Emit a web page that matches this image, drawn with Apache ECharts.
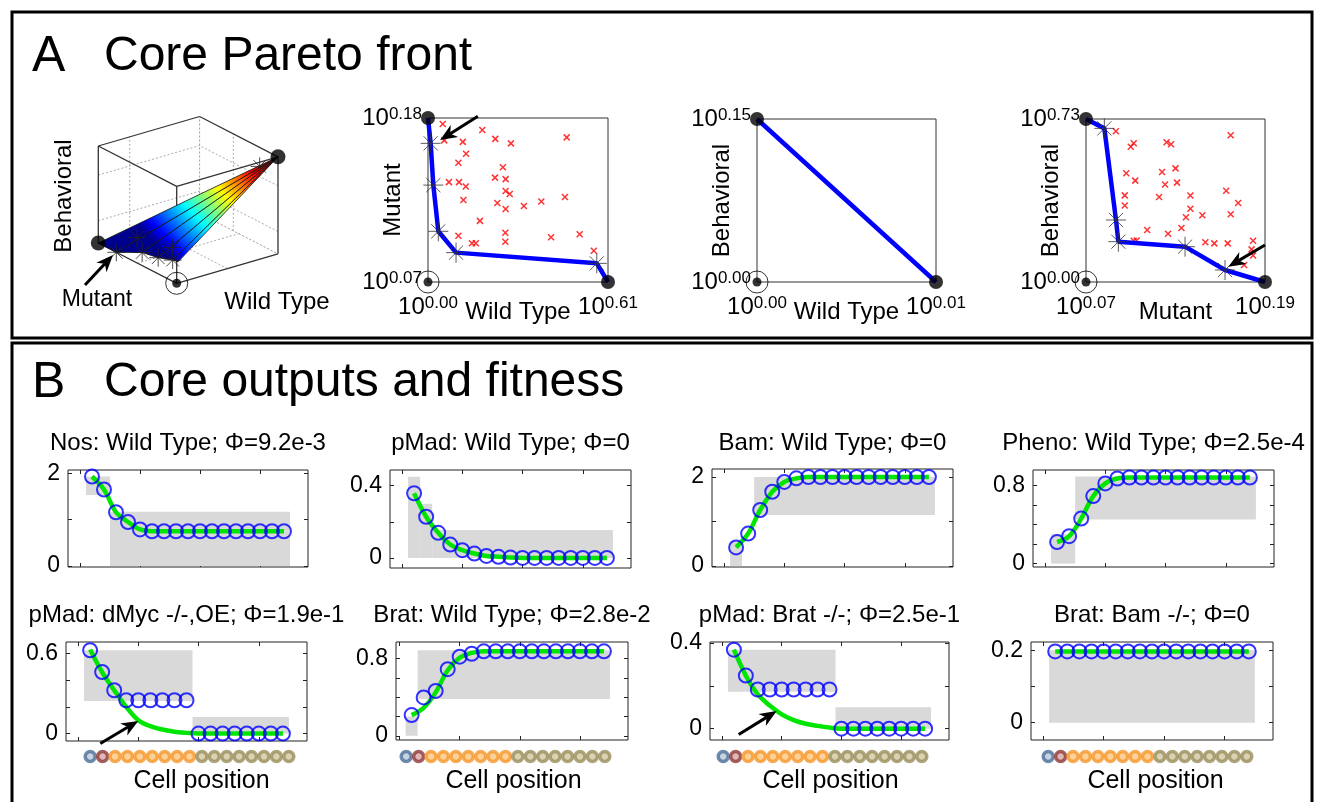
<!DOCTYPE html>
<html><head><meta charset="utf-8">
<script src="https://cdn.jsdelivr.net/npm/echarts@6/dist/echarts.min.js"></script>
<style>html,body{margin:0;padding:0;background:#fff}#c{width:1318px;height:802px}</style>
</head><body><div id="c"></div>
<script>
// ======================= DATA =======================
const cells = [1,2,3,4,5,6,7,8,9,10,11,12,13,14,15,16,17];
const cellKinds = [0,1,2,2,2,2,2,2,2,3,3,3,3,3,3,3,3];
const xTickVals = [0,5,10,15];

// ---- Panel A: 3D core Pareto front, normalised [Wild Type, Mutant, Behavioral]
const front3dApex = [1,0,1];
const front3dBase = [[0,1,0],[0,0.77,0],[0.1,0.57,0.05],[0.15,0.43,0.04],[0.2,0.31,0.05],[0.24,0.29,0.03]];
const front3dStars = [[0,0.77,0],[0.05,0.57,0.22],[0.1,0.57,0.05],[0.15,0.43,0.04],[0.2,0.31,0.05],[0.2,0.31,0.18],[0.85,0.04,0.93]];
const front3dDots = [[0,1,0],[1,0,1]];
const front3dOrigin = [[0,0,0]];
const cubeCorners = [[0,0,0],[1,0,0],[0,1,0],[1,1,0],[0,0,1],[1,0,1],[0,1,1],[1,1,1]];
const cubeSolidEdges = [[4,5],[5,7],[7,6],[6,4],[0,4],[2,6],[1,5],[0,2],[0,1]];
const cubeHiddenEdges = [[3,7],[3,2],[3,1]];
const cubeGridLines = [[[0,1,0.23],[1,1,0.23]],[[0,1,0.7],[1,1,0.7]],[[1,0,0.23],[1,1,0.23]],[[1,0,0.7],[1,1,0.7]],
  [[0.31,1,0],[0.31,1,1]],[[1,0.57,0],[1,0.57,1]],[[0.5,0,0],[0.5,1,0]],[[0,0.5,0],[1,0.5,0]]];
const arrow3d = [[45,15,73,45]];

// ---- Panel A: Mutant vs Wild Type (exponents of 10)
const wmRangeWT = [0, 0.61];
const wmRangeMut = [0.07, 0.18];
const wmFrontWT  = [0, 0.009, 0.018, 0.035, 0.095, 0.572, 0.61];
const wmFrontMut = [0.18, 0.163, 0.135, 0.104, 0.0897, 0.0825, 0.07];
const wmCloudWT  = [0.050,0.055,0.118,0.184,0.228,0.281,0.470,0.129,0.103,0.254,0.071,0.105,0.128,0.227,0.263,0.120,0.263,0.277,0.235,0.263,0.325,0.384,0.464,0.176,0.103,0.262,0.417,0.514,0.149,0.162,0.262,0.562];
const wmCloudMut = [0.176,0.165,0.164,0.172,0.166,0.163,0.167,0.156,0.150,0.147,0.137,0.137,0.134,0.140,0.139,0.125,0.131,0.129,0.123,0.119,0.121,0.124,0.127,0.111,0.101,0.103,0.100,0.102,0.096,0.096,0.097,0.091];
const wmArrow = [[0.169,0.1812,0.041,0.1652]];

// ---- Panel A: Behavioral vs Wild Type
const bwRangeWT = [0, 0.01];
const bwRangeBeh = [0, 0.15];
const bwFrontWT = [0, 0.01];
const bwFrontBeh = [0.15, 0];

// ---- Panel A: Behavioral vs Mutant
const bmRangeMut = [0.07, 0.19];
const bmRangeBeh = [0, 0.73];
const bmFrontMut = [0.07, 0.0823, 0.0901, 0.0917, 0.1364, 0.1632, 0.19];
const bmFrontBeh = [0.73, 0.688, 0.2776, 0.1806, 0.1582, 0.0537, 0];
const bmCloudMut = [0.090,0.102,0.100,0.124,0.127,0.167,0.097,0.121,0.130,0.103,0.123,0.131,0.096,0.096,0.119,0.140,0.164,0.172,0.140,0.137,0.148,0.167,0.134,0.125,0.111,0.102,0.104,0.150,0.156,0.165,0.182,0.181,0.182,0.176];
const bmCloudBeh = [0.675,0.621,0.606,0.626,0.617,0.657,0.487,0.493,0.509,0.454,0.437,0.445,0.388,0.343,0.381,0.387,0.409,0.354,0.328,0.290,0.299,0.303,0.242,0.216,0.233,0.185,0.186,0.178,0.173,0.173,0.185,0.146,0.119,0.076];
const bmArrow = [[0.19,0.1657,0.1654,0.0685]];

// ---- Panel B: core outputs (circles = output, green = fitted curve, bands = target ranges [x0,x1,y0,y1])
const nosWT   = [1.93,1.65,1.16,0.95,0.79,0.75,0.75,0.75,0.75,0.75,0.75,0.75,0.75,0.75,0.75,0.75,0.75];
const nosWTBands = [[0.5,2.5,1.53,1.93],[2.5,17.5,0,1.17]];
const pmadWT  = [0.358,0.228,0.139,0.074,0.043,0.024,0.011,0.006,0.002,0,0,0,0,0,0,0,0];
const pmadWTBands = [[0.5,1.5,0,0.45],[1.5,2.5,0,0.30],[2.5,17.5,0,0.154]];
const bamWT   = [0.42,0.73,1.26,1.67,1.89,1.97,2,2,2,2,2,2,2,2,2,2,2];
const bamWTBands = [[0.5,1.5,0,0.55],[2.5,17.5,1.15,2.0]];
const phenoWT = [0.22,0.28,0.46,0.69,0.82,0.87,0.88,0.88,0.88,0.88,0.88,0.88,0.88,0.88,0.88,0.88,0.88];
const phenoWTBands = [[0.5,2.5,0,0.3],[2.5,17.5,0.45,0.89]];
const pmadMyc = [0.625,0.462,0.325,0.25,0.25,0.25,0.25,0.25,0.25,0,0,0,0,0,0,0,0];
const pmadMycFit = [0.63,0.46,0.325,0.2,0.1,0.055,0.03,0.013,0.005,0,0,0,0,0,0,0,0];
const pmadMycBands = [[0.5,9.5,0.245,0.625],[9.5,17.5,0,0.125]];
const pmadMycArrow = [[1.85,-0.075,5.0,0.095]];
const bratWT  = [0.214,0.397,0.465,0.69,0.82,0.85,0.875,0.875,0.875,0.875,0.875,0.875,0.875,0.875,0.875,0.875,0.875];
const bratWTFit = [0.214,0.29,0.45,0.68,0.81,0.86,0.875,0.875,0.875,0.875,0.875,0.875,0.875,0.875,0.875,0.875,0.875];
const bratWTBands = [[0.5,1.5,0,0.2],[1.5,17.5,0.38,0.886]];
const pmadBrat = [0.369,0.248,0.183,0.183,0.183,0.183,0.183,0.183,0.183,0,0,0,0,0,0,0,0];
const pmadBratFit = [0.369,0.248,0.16,0.108,0.067,0.04,0.023,0.013,0.005,0,0,0,0,0,0,0,0];
const pmadBratBands = [[0.5,9.5,0.172,0.369],[9.5,17.5,0,0.1]];
const pmadBratArrow = [[1.4,-0.027,4.58,0.082]];
const bratBam = [0.197,0.197,0.197,0.197,0.197,0.197,0.197,0.197,0.197,0.197,0.197,0.197,0.197,0.197,0.197,0.197,0.197];
const bratBamBands = [[0.5,17.5,0,0.2]];

// ======================= STYLE / LAYOUT =======================
const F = "'Liberation Sans', Arial, Helvetica, sans-serif";
const kindStyle = [
  {fill:'#b9c8da', stroke:'#4b6f98'},
  {fill:'#d8a4a4', stroke:'#8e3a3a'},
  {fill:'#fcc780', stroke:'#f6972c'},
  {fill:'#cfc7a0', stroke:'#9a8e5c'}
];
const view = {ox:136.7, oy:16.7, wx:101.3, wy:29.5, mx:-78.4, my:40.3, bz:97};
function proj(p){ return [view.ox + view.wx*p[0] + view.mx*p[1], view.oy + view.wy*p[0] + view.my*p[1] + view.bz*p[2]]; }
const jet = [{offset:0,color:'#00008f'},{offset:0.08,color:'#0000ff'},{offset:0.32,color:'#00ffff'},{offset:0.56,color:'#ffff00'},{offset:0.8,color:'#ff0000'},{offset:1,color:'#800000'}];
const starPath = 'path://M5,0L5,10M0,5L10,5M1.46,1.46L8.54,8.54M1.46,8.54L8.54,1.46';
const xPath = 'path://M0,0L10,10M0,10L10,0';

const grids=[], xAxes=[], yAxes=[], series=[], graphics=[];
const zip = (a,b) => a.map((v,i)=>[v,b[i]]);
const noLine = {show:false, onZero:false};

function powLabel(v){ return '{b|10}{s|' + v.toFixed(2) + '}'; }
const powRich = {
  b:{fontSize:24, fontFamily:F, color:'#000', verticalAlign:'bottom', lineHeight:24},
  s:{fontSize:17, fontFamily:F, color:'#000', verticalAlign:'top', lineHeight:17, padding:[0,0,11,0]}
};
// arrow drawn through the axis scales (tail -> head)
function arrowSeries(xi, yi, arr){
  return {type:'custom', xAxisIndex:xi, yAxisIndex:yi, silent:true, clip:false, z:8, data:arr,
    renderItem:(params, api)=>{
      const a = api.coord([api.value(0), api.value(1)]);
      const b = api.coord([api.value(2), api.value(3)]);
      const dx = b[0]-a[0], dy = b[1]-a[1], len = Math.hypot(dx,dy) || 1;
      const ux = dx/len, uy = dy/len, nx = -uy, ny = ux;
      const L = 17, W = 7, N = 12;
      const back = [b[0]-ux*L, b[1]-uy*L];
      const notch = [b[0]-ux*N, b[1]-uy*N];
      return {type:'group', children:[
        {type:'line', shape:{x1:a[0],y1:a[1],x2:notch[0],y2:notch[1]}, style:{stroke:'#000', lineWidth:3}},
        {type:'polygon', shape:{points:[b,[back[0]+nx*W, back[1]+ny*W], notch, [back[0]-nx*W, back[1]-ny*W]]}, style:{fill:'#000'}}
      ]};
    }};
}

// ---------- 3D panel ----------
grids.push({left:40, top:100, width:260, height:200, outerBoundsMode:'none'});
xAxes.push({gridIndex:0, type:'value', min:0, max:260, show:false, axisLine:noLine});
yAxes.push({gridIndex:0, type:'value', min:0, max:200, show:false, axisLine:noLine});
function segSeries(segs, style, z){
  return {type:'custom', xAxisIndex:0, yAxisIndex:0, silent:true, z:z, clip:false,
    data: segs.map((s,i)=>[i]),
    renderItem:(params, api)=>{
      const s = segs[api.value(0)];
      const a = api.coord(proj(s[0])), b = api.coord(proj(s[1]));
      return {type:'line', shape:{x1:a[0],y1:a[1],x2:b[0],y2:b[1]}, style:Object.assign({fill:null}, style)};
    }};
}
series.push(segSeries(cubeGridLines, {stroke:'#aaa', lineWidth:1, lineDash:[2,2]}, 1));
series.push(segSeries(cubeHiddenEdges.map(e=>[cubeCorners[e[0]],cubeCorners[e[1]]]), {stroke:'#999', lineWidth:1, lineDash:[2,2]}, 1));
series.push(segSeries(cubeSolidEdges.map(e=>[cubeCorners[e[0]],cubeCorners[e[1]]]), {stroke:'#333', lineWidth:1.3}, 2));
series.push({type:'custom', xAxisIndex:0, yAxisIndex:0, silent:true, z:3, clip:false,
  data: front3dBase.slice(0,-1).map((p,i)=>[i]),
  renderItem:(params, api)=>{
    const i = api.value(0);
    const a = api.coord(proj(front3dApex));
    const p = api.coord(proj(front3dBase[i]));
    const q = api.coord(proj(front3dBase[i+1]));
    const g0 = api.coord(proj(front3dBase[front3dBase.length-2]));
    const grad = new echarts.graphic.LinearGradient(g0[0], g0[1], a[0], a[1], jet, true);
    return {type:'polygon', shape:{points:[a,p,q]}, style:{fill:grad, stroke:'#111', lineWidth:0.8}};
  }});
series.push({type:'scatter', xAxisIndex:0, yAxisIndex:0, silent:true, z:4, clip:false,
  data: front3dStars.map(proj), symbol:starPath, symbolSize:18,
  itemStyle:{color:'transparent', borderColor:'#222', borderWidth:1}});
series.push({type:'scatter', xAxisIndex:0, yAxisIndex:0, silent:true, z:5, clip:false,
  data: front3dDots.map(proj), symbol:'circle', symbolSize:15, itemStyle:{color:'#000'}});
series.push({type:'scatter', xAxisIndex:0, yAxisIndex:0, silent:true, z:5, clip:false,
  data: front3dOrigin.map(proj), symbol:'circle', symbolSize:9, itemStyle:{color:'#000'}});
series.push({type:'scatter', xAxisIndex:0, yAxisIndex:0, silent:true, z:5, clip:false,
  data: front3dOrigin.map(proj), symbol:'circle', symbolSize:22, itemStyle:{color:'transparent', borderColor:'#000', borderWidth:1}});
series.push(arrowSeries(0, 0, arrow3d));

// ---------- 2D Pareto panels ----------
function addPareto(o){
  const gi = grids.length;
  grids.push({left:o.box[0], top:o.box[1], width:o.box[2], height:o.box[3], show:true, borderColor:'#333', borderWidth:1, outerBoundsMode:'none'});
  const nameStyle = {fontFamily:F, fontSize:24, color:'#000'};
  xAxes.push({gridIndex:gi, type:'value', min:o.x[0], max:o.x[1], axisLine:noLine, axisTick:{show:false}, splitLine:{show:false},
    axisLabel:{customValues:o.x.slice(), formatter:powLabel, rich:powRich, margin:13},
    name:o.xName, nameLocation:'middle', nameGap:18, nameMoveOverlap:false, nameTextStyle:nameStyle});
  yAxes.push({gridIndex:gi, type:'value', min:o.y[0], max:o.y[1], axisLine:noLine, axisTick:{show:false}, splitLine:{show:false},
    axisLabel:{customValues:o.y.slice(), formatter:powLabel, rich:powRich, margin:6},
    name:o.yName, nameLocation:'middle', nameGap:23, nameRotate:90, nameMoveOverlap:false, nameTextStyle:nameStyle});
  const xi = xAxes.length-1, yi = yAxes.length-1;
  const base = {xAxisIndex:xi, yAxisIndex:yi, silent:true, clip:false};
  if (o.cloud) series.push(Object.assign({type:'scatter', z:2, data:o.cloud, symbol:xPath, symbolSize:6,
    itemStyle:{color:'transparent', borderColor:'#ff0000', borderWidth:1.5}}, base));
  series.push(Object.assign({type:'line', z:3, data:o.front, symbol:'none', lineStyle:{color:'#0000ff', width:4.5}}, base));
  if (o.stars) series.push(Object.assign({type:'scatter', z:4, data:o.stars, symbol:starPath, symbolSize:20,
    itemStyle:{color:'transparent', borderColor:'#333', borderWidth:1}}, base));
  series.push(Object.assign({type:'scatter', z:5, data:[o.front[0], o.front[o.front.length-1]], symbol:'circle', symbolSize:14, itemStyle:{color:'#000'}}, base));
  series.push(Object.assign({type:'scatter', z:5, data:[[o.x[0],o.y[0]]], symbol:'circle', symbolSize:9, itemStyle:{color:'#000'}}, base));
  series.push(Object.assign({type:'scatter', z:5, data:[[o.x[0],o.y[0]]], symbol:'circle', symbolSize:22, itemStyle:{color:'transparent', borderColor:'#000', borderWidth:1}}, base));
  if (o.arrow) series.push(arrowSeries(xi, yi, o.arrow));
}
const wmFront = zip(wmFrontWT, wmFrontMut);
addPareto({box:[428,118,180,164], x:wmRangeWT, y:wmRangeMut, xName:'Wild Type', yName:'Mutant',
  front:wmFront, stars:wmFront.slice(1,-1), cloud:zip(wmCloudWT, wmCloudMut), arrow:wmArrow});
addPareto({box:[757,119,179,163], x:bwRangeWT, y:bwRangeBeh, xName:'Wild Type', yName:'Behavioral',
  front:zip(bwFrontWT, bwFrontBeh)});
const bmFront = zip(bmFrontMut, bmFrontBeh);
addPareto({box:[1086,119,179,163], x:bmRangeMut, y:bmRangeBeh, xName:'Mutant', yName:'Behavioral',
  front:bmFront, stars:bmFront.slice(1,-1), cloud:zip(bmCloudMut, bmCloudBeh), arrow:bmArrow});

// ---------- Panel B ----------
const tickStyle = {show:true, inside:true, length:4, lineStyle:{color:'#222', width:1}};
function addPanel(o){
  const gi = grids.length;
  const [l,t,w,h] = o.box;
  grids.push({left:l, top:t, width:w, height:h, show:true, borderColor:'#222', borderWidth:1, outerBoundsMode:'none'});
  const xr = o.x || [-1,19];
  ['bottom','top'].forEach(pos => xAxes.push({gridIndex:gi, type:'value', position:pos, min:xr[0], max:xr[1],
    axisLine:noLine, axisTick:Object.assign({customValues:xTickVals}, tickStyle), axisLabel:{show:false}, splitLine:{show:false}}));
  const xi = xAxes.length-2;
  yAxes.push({gridIndex:gi, type:'value', position:'left', min:o.y[0], max:o.y[1], axisLine:noLine,
    axisTick:Object.assign({customValues:o.yTicks}, tickStyle), splitLine:{show:false},
    axisLabel:{customValues:[0,o.yTop], formatter:v=> v===0?'0':String(v), fontFamily:F, fontSize:23, color:'#000', margin:8}});
  yAxes.push({gridIndex:gi, type:'value', position:'right', min:o.y[0], max:o.y[1], axisLine:noLine,
    axisTick:Object.assign({customValues:o.yTicks}, tickStyle), axisLabel:{show:false}, splitLine:{show:false}});
  const yi = yAxes.length-2;
  const base = {xAxisIndex:xi, yAxisIndex:yi, silent:true, clip:false};
  series.push(Object.assign({type:'custom', z:1, data:o.bands,
    renderItem:(params, api)=>{
      const p0 = api.coord([api.value(0), api.value(3)]);
      const p1 = api.coord([api.value(1), api.value(2)]);
      return {type:'rect', shape:{x:p0[0], y:p0[1], width:p1[0]-p0[0], height:p1[1]-p0[1]}, style:{fill:'#d9d9d9'}};
    }}, base));
  const fit = zip(cells, o.fit || o.vals);
  series.push(Object.assign({type:'line', z:2, data:fit, smooth:0.35, symbol:'none', lineStyle:{color:'#00e600', width:4.5}}, base));
  series.push(Object.assign({type:'scatter', z:3, data:zip(cells, o.vals), symbol:'circle', symbolSize:14,
    itemStyle:{color:'transparent', borderColor:'#0000ff', borderWidth:2}}, base));
  if (o.arrow) series.push(arrowSeries(xi, yi, o.arrow));
  graphics.push({type:'text', x:l + w/2, y:o.titleY, style:{text:o.title, font:'24px ' + F, fill:'#000', align:'center', verticalAlign:'middle'}});
  if (o.cellRow){
    const gj = grids.length;
    const dl = o.cellRow;
    grids.push({left:dl, top:750, width:211, height:13, outerBoundsMode:'none'});
    xAxes.push({gridIndex:gj, type:'value', min:0.5, max:17.5, axisLine:noLine, axisTick:{show:false}, axisLabel:{show:false}, splitLine:{show:false},
      name:'Cell position', nameLocation:'middle', nameGap:6, nameMoveOverlap:false, nameTextStyle:{fontFamily:F, fontSize:25, color:'#000', padding:[0,0,0,o.namePad||0]}});
    yAxes.push({gridIndex:gj, type:'value', min:0, max:1, show:false, axisLine:noLine});
    series.push({type:'scatter', xAxisIndex:xAxes.length-1, yAxisIndex:yAxes.length-1, silent:true, clip:false, z:3,
      data: cells.map((c,i)=>({value:[c,0.5], itemStyle:{color:kindStyle[cellKinds[i]].fill, borderColor:kindStyle[cellKinds[i]].stroke}})),
      symbol:'circle', symbolSize:10, itemStyle:{borderWidth:3.5}});
  }
}
const row1Y = 443, row2Y = 615;
addPanel({box:[68,470,240,97], y:[-0.02,2.07], yTicks:[0,1,2], yTop:2, vals:nosWT, bands:nosWTBands, title:'Nos: Wild Type; \u03A6=9.2e-3', titleY:row1Y});
addPanel({box:[390,470,241,98], y:[-0.056,0.487], yTicks:[0,0.2,0.4], yTop:0.4, vals:pmadWT, bands:pmadWTBands, title:'pMad: Wild Type; \u03A6=0', titleY:row1Y});
addPanel({box:[712,469,241,98], y:[-0.02,2.18], yTicks:[0,1,2], yTop:2, vals:bamWT, bands:bamWTBands, title:'Bam: Wild Type; \u03A6=0', titleY:row1Y});
addPanel({box:[1033,470,241,97], y:[-0.035,0.957], yTicks:[0,0.2,0.4,0.6,0.8], yTop:0.8, vals:phenoWT, bands:phenoWTBands, title:'Pheno: Wild Type; \u03A6=2.5e-4', titleY:row1Y});
addPanel({box:[66,642,241,99], y:[-0.056,0.687], yTicks:[0,0.2,0.4,0.6], yTop:0.6, vals:pmadMyc, fit:pmadMycFit, bands:pmadMycBands, arrow:pmadMycArrow, title:'pMad: dMyc -/-,OE; \u03A6=1.9e-1', titleY:row2Y, cellRow:84, namePad:24});
addPanel({box:[396,642,232,98], x:[-0.3,19], y:[-0.044,0.972], yTicks:[0,0.2,0.4,0.6,0.8], yTop:0.8, vals:bratWT, fit:bratWTFit, bands:bratWTBands, title:'Brat: Wild Type; \u03A6=2.8e-2', titleY:row2Y, cellRow:400, namePad:16});
addPanel({box:[710,642,239,98], y:[-0.053,0.405], yTicks:[0,0.2,0.4], yTop:0.4, vals:pmadBrat, fit:pmadBratFit, bands:pmadBratBands, arrow:pmadBratArrow, title:'pMad: Brat -/-; \u03A6=2.5e-1', titleY:row2Y, cellRow:717, namePad:16});
addPanel({box:[1031,642,242,98], y:[-0.048,0.223], yTicks:[0,0.1,0.2], yTop:0.2, vals:bratBam, bands:bratBamBands, title:'Brat: Bam -/-; \u03A6=0', titleY:row2Y, cellRow:1042, namePad:16});

// ---------- frames & headings ----------
graphics.push({type:'rect', shape:{x:12,y:12,width:1300,height:326}, style:{fill:'none', stroke:'#000', lineWidth:3}});
graphics.push({type:'rect', shape:{x:12,y:343,width:1300,height:480}, style:{fill:'none', stroke:'#000', lineWidth:3}});
graphics.push({type:'text', x:32, y:57, style:{text:'A', font:'50px ' + F, fill:'#000', verticalAlign:'middle'}});
graphics.push({type:'text', x:104, y:57, style:{text:'Core Pareto front', font:'48px ' + F, fill:'#000', verticalAlign:'middle'}});
graphics.push({type:'text', x:32, y:383, style:{text:'B', font:'50px ' + F, fill:'#000', verticalAlign:'middle'}});
graphics.push({type:'text', x:104, y:383, style:{text:'Core outputs and fitness', font:'48px ' + F, fill:'#000', verticalAlign:'middle'}});
graphics.push({type:'text', x:64, y:196, rotation:Math.PI/2, style:{text:'Behavioral', font:'24px ' + F, fill:'#000', align:'center', verticalAlign:'middle'}});
graphics.push({type:'text', x:97, y:300, style:{text:'Mutant', font:'23px ' + F, fill:'#000', align:'center', verticalAlign:'middle'}});
graphics.push({type:'text', x:277, y:302, style:{text:'Wild Type', font:'24px ' + F, fill:'#000', align:'center', verticalAlign:'middle'}});

const chart = echarts.init(document.getElementById('c'), null, {renderer:'canvas'});
chart.setOption({animation:false, backgroundColor:'#fff', grid:grids, xAxis:xAxes, yAxis:yAxes, series:series, graphic:{elements:graphics}});
</script></body></html>
